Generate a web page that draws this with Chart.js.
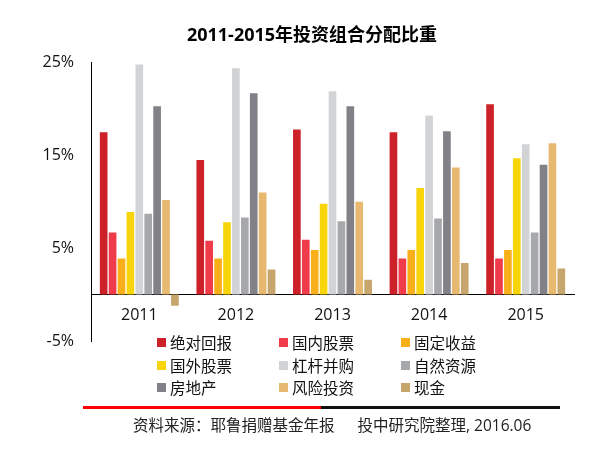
<!DOCTYPE html>
<html>
<head>
<meta charset="utf-8">
<script src="https://cdn.jsdelivr.net/npm/chart.js@4"></script>
<style>
    html, body { margin: 0; padding: 0; background: #fff; }
    #wrap { position: relative; width: 610px; height: 454px; }
    #chart { position: absolute; left: 0; top: 0; }
    #legend {
        position: absolute; left: 157px; top: 331px;
        display: grid; grid-template-columns: 122px 122px 122px; grid-auto-rows: 22.7px;
        font-family: 'Open Sans', 'Noto Sans CJK SC', sans-serif; font-size: 15.5px; color: #111;
    }
    .legend-item { display: flex; align-items: center; white-space: nowrap; }
    .legend-box { width: 9px; height: 9px; margin-right: 4px; flex: none; }
    #rule { position: absolute; left: 83px; top: 405.5px; width: 477px; height: 3px;
        background: linear-gradient(to right, #ff0000 0, #ff0000 238px, #111 238px, #111 100%); }
    #source { position: absolute; left: 133px; top: 413px; white-space: nowrap;
        font-family: 'Open Sans', 'Noto Sans CJK SC', sans-serif; font-size: 15.5px; color: #222; }
    #source span + span { margin-left: 23px; }
</style>
</head>
<body>
<div id="wrap">
    <canvas id="chart" width="610" height="454"></canvas>
    <div id="legend"></div>
    <div id="rule"></div>
    <div id="source"><span>资料来源：耶鲁捐赠基金年报</span><span>投中研究院整理, 2016.06</span></div>
</div>
<script>
// Portfolio allocation by year (%)
const years = ["2011", "2012", "2013", "2014", "2015"];
const yTicks = [-5, 5, 15, 25];

const absoluteReturn = [17.5, 14.5, 17.8, 17.5, 20.5];   // 绝对回报
const domesticEquity = [6.7, 5.8, 5.9, 3.9, 3.9];        // 国内股票
const fixedIncome = [3.9, 3.9, 4.8, 4.8, 4.8];           // 固定收益
const foreignEquity = [8.9, 7.8, 9.8, 11.5, 14.7];       // 国外股票
const leveragedBuyouts = [24.8, 24.4, 21.9, 19.3, 16.2]; // 杠杆并购
const naturalResources = [8.7, 8.3, 7.9, 8.2, 6.7];      // 自然资源
const realEstate = [20.3, 21.7, 20.3, 17.6, 14.0];       // 房地产
const ventureCapital = [10.2, 11.0, 10.0, 13.7, 16.3];   // 风险投资
const cash = [-1.2, 2.7, 1.6, 3.4, 2.8];                 // 现金

const seriesNames = ["绝对回报", "国内股票", "固定收益", "国外股票", "杠杆并购", "自然资源", "房地产", "风险投资", "现金"];
const seriesValues = [absoluteReturn, domesticEquity, fixedIncome, foreignEquity, leveragedBuyouts,
    naturalResources, realEstate, ventureCapital, cash];
const seriesColors = ["#cc2129", "#ef3b4a", "#f9af1a", "#f8d50b", "#d2d3d5", "#a7a8ac", "#818187", "#e7b86f", "#c6a66c"];

const FONT = "'Open Sans', 'Noto Sans CJK SC', sans-serif";

// nudge the title right, the reference is not centred over the padded box
const titleShift = {
    id: 'titleShift',
    afterLayout(c) {
        if (c.titleBlock) {
            c.titleBlock.left += 25;
            c.titleBlock.right += 25;
        }
    }
};

const chart = new Chart(document.getElementById("chart"), {
    type: 'bar',
    data: {
        labels: years,
        datasets: seriesNames.map((name, i) => ({
            label: name,
            data: seriesValues[i],
            backgroundColor: seriesColors[i],
            borderWidth: 0,
            categoryPercentage: 0.83,
            barPercentage: 0.86
        }))
    },
    plugins: [titleShift],
    options: {
        responsive: false,
        animation: false,
        devicePixelRatio: 1,
        layout: { padding: { left: 0, right: 36, top: 0, bottom: 113 } },
        plugins: {
            legend: { display: false },
            tooltip: { enabled: false },
            title: {
                display: true,
                text: "2011-2015年投资组合分配比重",
                color: '#000',
                font: { family: FONT, size: 18, weight: 'bold', lineHeight: 1.2 },
                padding: { top: 25, bottom: 16 }
            }
        },
        scales: {
            x: {
                type: 'category',
                position: { y: 0 },
                grid: { display: false, drawTicks: false },
                border: { display: true, color: '#000', width: 1 },
                ticks: { color: '#111', font: { family: FONT, size: 16 }, padding: 11 }
            },
            y: {
                min: -5,
                max: 25,
                afterBuildTicks: axis => { axis.ticks = yTicks.map(v => ({ value: v })); },
                afterFit: axis => { axis.width = 91; },
                grid: { display: false, drawTicks: false },
                border: { display: true, color: '#000', width: 1 },
                ticks: {
                    color: '#111',
                    font: { family: FONT, size: 16 },
                    padding: 17,
                    callback: v => v + "%"
                }
            }
        }
    }
});

// HTML legend in a 3-column grid, built from the chart's own legend items
function buildLegend() {
    const container = document.getElementById("legend");
    container.innerHTML = "";
    const items = chart.options.plugins.legend.labels.generateLabels(chart);
    items.forEach(item => {
        const row = document.createElement("div");
        row.className = "legend-item";
        const box = document.createElement("span");
        box.className = "legend-box";
        box.style.background = item.fillStyle;
        const text = document.createElement("span");
        text.textContent = item.text;
        row.appendChild(box);
        row.appendChild(text);
        container.appendChild(row);
    });
}
buildLegend();
</script>
</body>
</html>
